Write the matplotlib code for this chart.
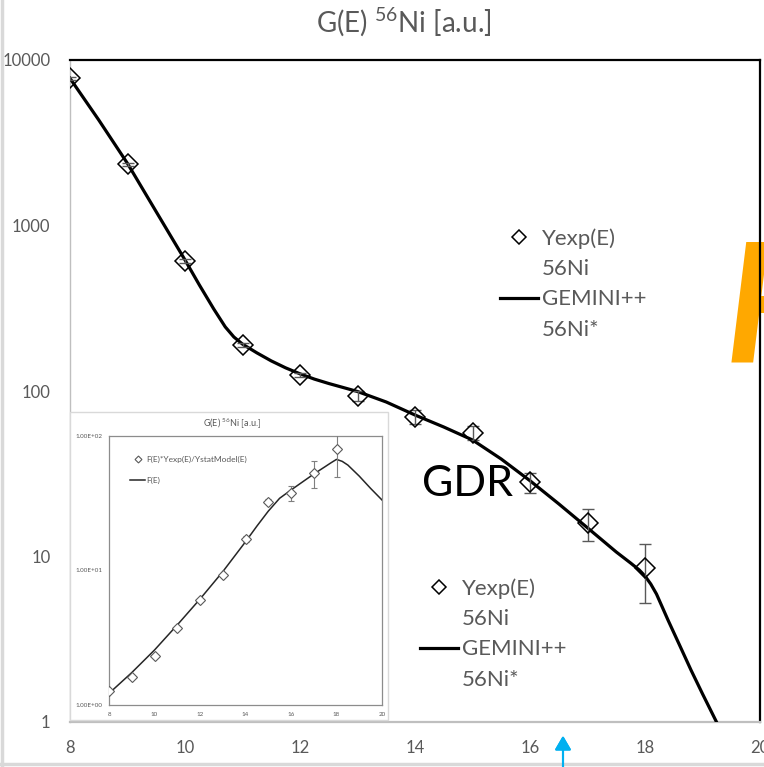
import matplotlib.pyplot as plt
from matplotlib.lines import Line2D
from matplotlib.patches import Rectangle

plt.rcParams['font.family'] = ['Lato', 'DejaVu Sans']
plt.rcParams['mathtext.fontset'] = 'custom'
plt.rcParams['mathtext.rm'] = 'Lato'

GRAY = '#595959'

# main chart: measured yield Yexp(E) with errors
energy = [8, 9, 10, 11, 12, 13, 14, 15, 16, 17, 18]
yexp = [7750, 2340, 610, 190, 125, 93, 70, 56, 28.1, 15.9, 8.56]
yexp_err = [150, 60, 15, 6, 3.5, 6.5, 7, 5.5, 4, 3.5, 3.3]

# GEMINI++ 56Ni* curve
gem_e = [8.0, 8.5, 9.0, 9.5, 10.0, 10.25, 10.5, 10.7, 10.85, 11.0, 11.25, 11.5,
         11.75, 12.0, 12.25, 12.5, 12.75, 13.0, 13.5, 14.0, 14.5, 15.0, 15.5,
         16.0, 16.5, 17.0, 17.25, 17.5, 17.75, 17.9, 18.0, 18.1, 18.2, 18.3,
         18.4, 18.6, 18.8, 19.0, 19.25]
gem_y = [7750, 4340, 2370, 1210, 619, 437, 313, 244, 212, 192, 170, 152,
         138, 127, 118, 111, 105, 99.3, 85.8, 71.6, 60.6, 50.6, 38.8,
         28.7, 20.8, 14.9, 12.6, 10.65, 9.13, 8.29, 7.62, 6.82, 5.93, 4.95,
         4.13, 2.92, 2.06, 1.48, 0.99]

# inset: F(E)*Yexp(E)/YstatModel(E) and F(E)
ins_y = [1.27, 1.62, 2.32, 3.75, 6.02, 9.29, 17.1, 32.4, 37.5, 52.8, 79.6]
ins_err = [0.03, 0.04, 0.05, 0.08, 0.1, 0.2, 0.8, 1.5, 4.8, 12, 30]
f_e = [8, 9, 10, 11, 12, 13, 14, 14.5, 15, 15.5, 16, 17, 17.5, 17.75, 18,
       18.25, 18.5, 19, 19.5, 20]
f_y = [1.22, 1.74, 2.56, 3.93, 6.12, 9.77, 16.3, 21.3, 27.5, 34.3, 39.5, 51.9,
       58.9, 62.8, 66.7, 64.5, 60.5, 50.1, 40.6, 33.3]

fig = plt.figure(figsize=(7.64, 7.67), dpi=100)

# main axes
ax = fig.add_axes([70/764, 1-722/767, 690/764, 662/767], facecolor='none')
ax.set_yscale('log')
ax.set_xlim(8, 20)
ax.set_ylim(1, 10000)
ax.plot(gem_e, gem_y, color='black', lw=2.3, zorder=3)
ax.errorbar(energy, yexp, yerr=yexp_err, fmt='none', ecolor=GRAY, elinewidth=1,
            capsize=4, capthick=1, zorder=4)
ax.plot(energy, yexp, ls='none', marker='D', ms=10.5, mfc='none', mec='black',
        mew=1.1, zorder=5)
ax.set_xticks([8, 10, 12, 14, 16, 18, 20])
ax.set_yticks([1, 10, 100, 1000, 10000])
ax.set_yticklabels(['1', '10', '100', '1000', '10000'])
ax.minorticks_off()
ax.tick_params(length=0, labelsize=12, labelcolor=GRAY)
ax.tick_params(axis='y', pad=14)
ax.tick_params(axis='x', pad=13)
for s in ['left', 'bottom']:
    ax.spines[s].set_color('#BFBFBF')
ax.spines['left'].set_linewidth(1)
ax.spines['bottom'].set_linewidth(1.6)
for s in ['top', 'right']:
    ax.spines[s].set_color('black')
    ax.spines[s].set_linewidth(1.6)
fig.text(0.528, 1-22/767, 'G(E) $\\mathregular{^{56}}$Ni [a.u.]', ha='center',
         va='center', fontsize=20, color=GRAY)

# legends
def make_handles(ms, lw):
    return [Line2D([], [], ls='none', marker='D', ms=ms, mfc='none', mec='black', mew=1.1),
            Line2D([], [], ls='none'),
            Line2D([], [], color='black', lw=lw),
            Line2D([], [], ls='none')]

labels = ['Yexp(E)', '56Ni', 'GEMINI++', '56Ni*']
leg_kw = dict(loc='upper left', bbox_transform=fig.transFigure, frameon=False,
              fontsize=16, labelcolor=GRAY, handlelength=1.7, handletextpad=0.18,
              labelspacing=0.47, borderpad=0, borderaxespad=0)
leg1 = ax.legend(make_handles(7, 2.3), labels, bbox_to_anchor=(500/764, 1-228/767), **leg_kw)
ax.add_artist(leg1)
leg2 = ax.legend(make_handles(7, 2.3), labels, bbox_to_anchor=(420/764, 1-578/767), **leg_kw)

fig.text(422/764, 1-484/767, 'GDR', ha='left', va='center', fontsize=31, color='black')

# orange letter cut by the right edge
fig.text(725/764, 1-362/767, 'F', ha='left', va='baseline', fontsize=120,
         fontweight='bold', style='italic', color='#FFA800', zorder=-1)

# inset panel
fig.add_artist(Rectangle((70/764, 1-720/767), 318/764, 308/767, transform=fig.transFigure,
                         facecolor='white', edgecolor='#D9D9D9', lw=1, zorder=1))
axi = fig.add_axes([109/764, 1-705/767, 273/764, 269.3/767], zorder=2)
axi.set_yscale('log')
axi.set_xlim(8, 20)
axi.set_ylim(1, 100)
axi.plot(f_e, f_y, color='#262626', lw=1.1, zorder=3)
axi.errorbar(energy, ins_y, yerr=ins_err, fmt='none', ecolor='#7F7F7F', elinewidth=0.8,
             capsize=2, capthick=0.8, zorder=4)
axi.plot(energy, ins_y, ls='none', marker='D', ms=4.8, mfc='white', mec='#595959',
         mew=0.8, zorder=5)
axi.set_xticks([8, 10, 12, 14, 16, 18, 20])
axi.set_yticks([1, 10, 100])
axi.set_yticklabels(['1.00E+00', '1.00E+01', '1.00E+02'])
axi.minorticks_off()
axi.tick_params(length=0, labelsize=4.5, labelcolor=GRAY, pad=5)
for s in axi.spines.values():
    s.set_color('#8C8C8C')
    s.set_linewidth(0.9)
axi.text(0.45, 1.045, 'G(E) $\\mathregular{^{56}}$Ni [a.u.]', transform=axi.transAxes,
         ha='center', va='center', fontsize=6.5, color=GRAY)
axi.legend([Line2D([], [], ls='none', marker='D', ms=3.5, mfc='white', mec=GRAY, mew=0.8),
            Line2D([], [], color='#262626', lw=1.1)],
           ['F(E)*Yexp(E)/YstatModel(E)', 'F(E)'], loc='upper left',
           bbox_to_anchor=(130/764, 1-456/767), bbox_transform=fig.transFigure,
           frameon=False, fontsize=6, labelcolor=GRAY, handlelength=1.84,
           handletextpad=0.16, labelspacing=1.6, borderpad=0, borderaxespad=0)

# blue arrow at the bottom
fig.add_artist(plt.annotate('', xy=(563/764, 1-733/767), xytext=(563/764, -0.01),
                            xycoords='figure fraction', textcoords='figure fraction',
                            arrowprops=dict(arrowstyle='-|>,head_length=0.6,head_width=0.35',
                                            color='#00B0F0', lw=1.5, mutation_scale=14)))

# slide frame edges
fig.add_artist(Line2D([2/764, 2/764], [0, 1], color='#D9D9D9', lw=2.5, transform=fig.transFigure))
fig.add_artist(Line2D([0, 1], [3/767, 3/767], color='#D9D9D9', lw=2.5, transform=fig.transFigure))

fig.savefig('out.png', dpi=100)
